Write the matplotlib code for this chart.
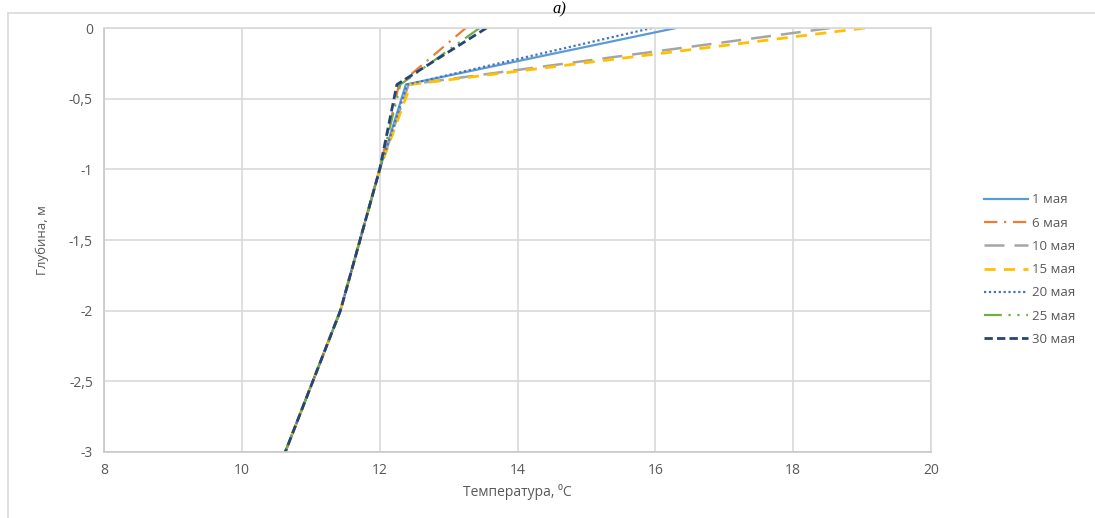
import matplotlib
matplotlib.use('Agg')
import matplotlib.pyplot as plt
from matplotlib.lines import Line2D
from matplotlib.ticker import FuncFormatter

plt.rcParams['font.family'] = ['Open Sans', 'DejaVu Sans']

depth = [0, -0.4, -1, -2, -3]

labels = ['1 мая', '6 мая', '10 мая', '15 мая', '20 мая', '25 мая', '30 мая']
t_may01 = [16.30, 12.38, 12.00, 11.43, 10.63]
t_may06 = [13.25, 12.28, 12.00, 11.43, 10.63]
t_may10 = [18.54, 12.42, 12.00, 11.43, 10.63]
t_may15 = [19.04, 12.45, 12.00, 11.43, 10.63]
t_may20 = [15.95, 12.40, 12.00, 11.43, 10.63]
t_may25 = [13.45, 12.30, 12.00, 11.43, 10.63]
t_may30 = [13.55, 12.25, 12.00, 11.43, 10.63]
series = [t_may01, t_may06, t_may10, t_may15, t_may20, t_may25, t_may30]

colors = ['#5B9BD5', '#ED7D31', '#A5A5A5', '#FFC000', '#4472C4', '#70AD47', '#264478']
styles = ['-', (0, (6, 3, 1, 3)), (0, (8, 4)), (0, (4, 3)), (0, (1, 1.2)),
          (0, (8, 3, 1, 3, 1, 3)), (0, (3, 1.5))]
widths = [1.6, 1.6, 1.8, 2.0, 1.6, 1.6, 2.0]

fig = plt.figure(figsize=(10.95, 5.18), dpi=100)
ax = fig.add_axes([104 / 1095, 66 / 518, 827 / 1095, 424 / 518])

for vals, lab, c, ls, lw in zip(series, labels, colors, styles, widths):
    ax.plot(vals, depth, color=c, linestyle=ls, linewidth=lw, label=lab)

ax.set_xlim(8, 20)
ax.set_ylim(-3, 0)
ax.set_xticks([8, 10, 12, 14, 16, 18, 20])
ax.set_yticks([0, -0.5, -1, -1.5, -2, -2.5, -3])
ax.yaxis.set_major_formatter(FuncFormatter(lambda v, p: ('%g' % v).replace('.', ',')))
ax.grid(True, color='#d9d9d9', linewidth=1.2)
ax.set_axisbelow(True)
for s in ax.spines.values():
    s.set_color('#d9d9d9')
    s.set_linewidth(1.2)
ax.spines['left'].set_color('#c8c8c8')
ax.spines['bottom'].set_color('#c8c8c8')
ax.tick_params(length=0, colors='#595959', labelsize=10, pad=8)

ax.set_xlabel('Температура, ⁰С', color='#595959', fontsize=10, labelpad=4)
ax.set_ylabel('Глубина, м', color='#595959', fontsize=9.5, labelpad=14)

ax.legend(loc='center left', bbox_to_anchor=(1.05, 0.43), frameon=False,
          fontsize=9.5, labelcolor='#595959', handlelength=3.3, labelspacing=0.78,
          handletextpad=0.3)

# chart area border
fig.add_artist(Line2D([8 / 1095, 8 / 1095], [0, 505.5 / 518], color='#d9d9d9', linewidth=1.2))
fig.add_artist(Line2D([8 / 1095, 1], [505.5 / 518, 505.5 / 518], color='#d9d9d9', linewidth=1.2))

fig.text(559 / 1095, 1 - 1 / 518, 'а)', fontsize=12, style='italic',
         family='Liberation Serif', ha='center', va='top')

fig.savefig('out.png', dpi=100)
